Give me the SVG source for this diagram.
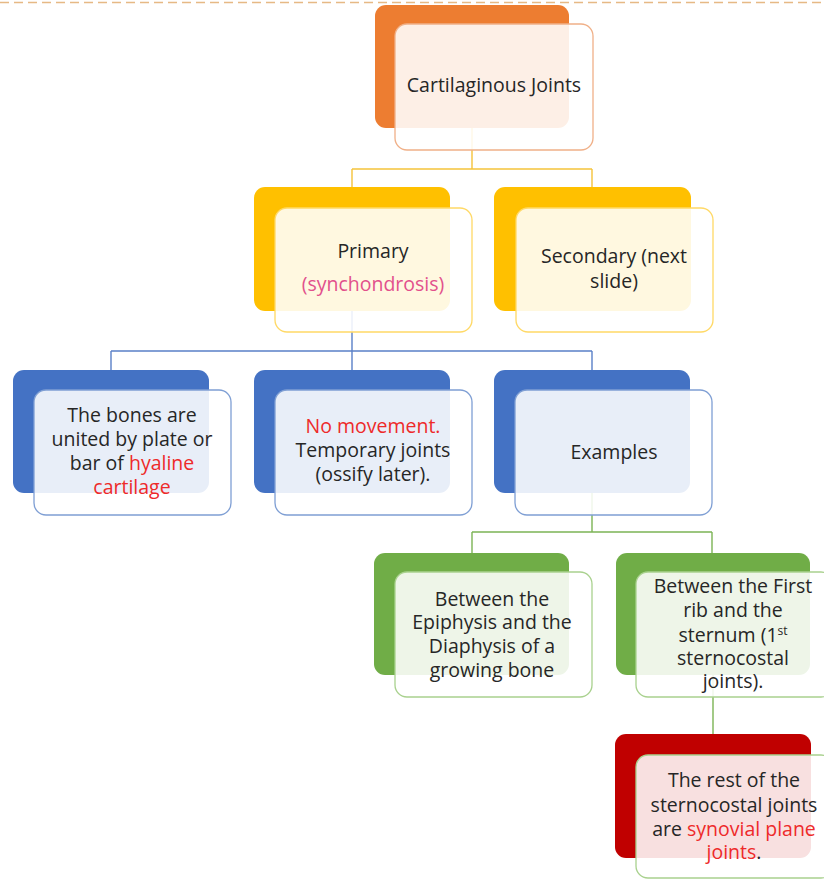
<svg xmlns="http://www.w3.org/2000/svg" width="824" height="879" viewBox="0 0 824 879">
<style>
  text { font-family: "Open Sans", "Noto Sans", "Liberation Sans", sans-serif; font-size: 19.5px; fill: #262626; text-anchor: middle; }
  .red { fill: #ee2a2a; }
  .pink { fill: #e2508c; }
  .sup { font-size: 12px; }
  .box { fill: #ffffff; fill-opacity: 0.88; stroke-width: 1.3; }
  .conn { fill: none; stroke-width: 1.4; }
</style>
<line x1="0" y1="2.5" x2="824" y2="2.5" stroke="#e6b985" stroke-width="1.6" stroke-dasharray="9 5"/>
<g id="connectors">
  <path class="conn" stroke="#f5c33b" d="M472 128 V169 M352 169 H592 M352 169 V187 M592 169 V187"/>
  <path class="conn" stroke="#5a80c8" d="M352 311 V351 M111 351 H592 M111 351 V370 M352 351 V370 M592 351 V370"/>
  <path class="conn" stroke="#7cb455" d="M592 493 V532 M472 532 H712 M472 532 V553 M712 532 V553 M713 675 V734"/>
</g>
<g id="node-cartilaginous">
  <rect x="375" y="5" width="194" height="123" rx="11" fill="#ed7d31"/>
  <rect class="box" x="395" y="24" width="198" height="126" rx="12" stroke="#f0b088"/>
  <text x="494" y="92">Cartilaginous Joints</text>
</g>
<g id="node-primary">
  <rect x="254" y="187" width="196" height="124" rx="11" fill="#ffc000"/>
  <rect class="box" x="275" y="208" width="197" height="124" rx="12" stroke="#ffd966"/>
  <text x="373" y="258">Primary</text>
  <text x="373" y="291" class="pink">(synchondrosis)</text>
</g>
<g id="node-secondary">
  <rect x="494" y="187" width="197" height="124" rx="11" fill="#ffc000"/>
  <rect class="box" x="516" y="208" width="197" height="124" rx="12" stroke="#ffd966"/>
  <text x="614" y="263">Secondary (next</text>
  <text x="614" y="288">slide)</text>
</g>
<g id="node-bones">
  <rect x="13" y="370" width="196" height="123" rx="11" fill="#4472c4"/>
  <rect class="box" x="34" y="390" width="197" height="125" rx="12" stroke="#7f9fd4"/>
  <text x="132" y="422">The bones are</text>
  <text x="132" y="446">united by plate or</text>
  <text x="132" y="470">bar of <tspan class="red">hyaline</tspan></text>
  <text x="132" y="494" class="red">cartilage</text>
</g>
<g id="node-nomovement">
  <rect x="254" y="370" width="196" height="123" rx="11" fill="#4472c4"/>
  <rect class="box" x="275" y="390" width="197" height="125" rx="12" stroke="#7f9fd4"/>
  <text x="373" y="433" class="red">No movement.</text>
  <text x="373" y="457">Temporary joints</text>
  <text x="373" y="481">(ossify later).</text>
</g>
<g id="node-examples">
  <rect x="494" y="370" width="196" height="123" rx="11" fill="#4472c4"/>
  <rect class="box" x="515" y="390" width="197" height="125" rx="12" stroke="#7f9fd4"/>
  <text x="614" y="459">Examples</text>
</g>
<g id="node-epiphysis">
  <rect x="374" y="553" width="195" height="122" rx="11" fill="#70ad47"/>
  <rect class="box" x="395" y="572" width="197" height="125" rx="12" stroke="#a9d18e"/>
  <text x="492" y="606">Between the</text>
  <text x="492" y="629">Epiphysis and the</text>
  <text x="492" y="653">Diaphysis of a</text>
  <text x="492" y="677">growing bone</text>
</g>
<g id="node-firstrib">
  <rect x="616" y="553" width="194" height="122" rx="11" fill="#70ad47"/>
  <rect class="box" x="636" y="572" width="197" height="125" rx="12" stroke="#a9d18e"/>
  <text x="733" y="593">Between the First</text>
  <text x="733" y="617">rib and the</text>
  <text x="733" y="642">sternum (1<tspan class="sup" dy="-7">st</tspan></text>
  <text x="733" y="665">sternocostal</text>
  <text x="733" y="688">joints).</text>
</g>
<g id="node-rest">
  <rect x="615" y="734" width="196" height="124" rx="11" fill="#c00000"/>
  <rect class="box" x="636" y="755" width="197" height="123" rx="12" stroke="#a9d18e"/>
  <text x="734" y="787">The rest of the</text>
  <text x="734" y="812">sternocostal joints</text>
  <text x="734" y="836">are <tspan class="red">synovial plane</tspan></text>
  <text x="734" y="859"><tspan class="red">joints</tspan>.</text>
</g>
</svg>
